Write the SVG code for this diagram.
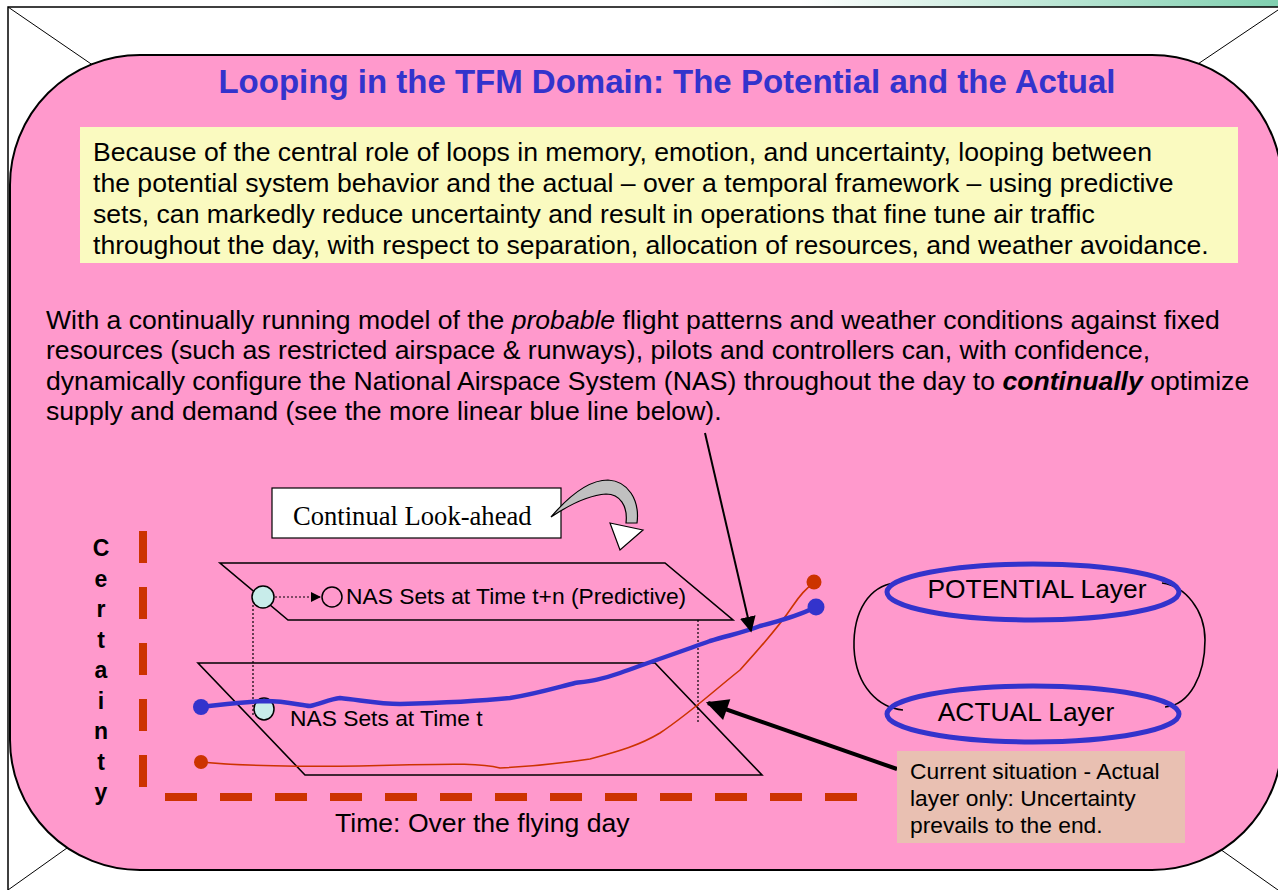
<svg xmlns="http://www.w3.org/2000/svg" width="1278" height="890" viewBox="0 0 1278 890">
<defs>
<linearGradient id="topg" x1="0" y1="0" x2="1" y2="0">
<stop offset="0" stop-color="#ffffff"/>
<stop offset="1" stop-color="#80d0b0"/>
</linearGradient>
<marker id="ah" markerWidth="10" markerHeight="10" refX="9" refY="5" orient="auto" markerUnits="userSpaceOnUse">
<path d="M0,0 L10,5 L0,10 Z" fill="#000"/>
</marker>
<marker id="ah2" viewBox="0 0 10 10" markerWidth="16" markerHeight="16" refX="9" refY="5" orient="auto" markerUnits="userSpaceOnUse">
<path d="M0,0 L10,5 L0,10 Z" fill="#000"/>
</marker>
<marker id="ah3" viewBox="0 0 10 10" markerWidth="24" markerHeight="22" refX="9" refY="5" orient="auto" markerUnits="userSpaceOnUse">
<path d="M0,0 L10,5 L0,10 Z" fill="#000"/>
</marker>
</defs>
<style>
.sans{font-family:"Liberation Sans",Arial,sans-serif;}
.body{font-family:"Liberation Sans",Arial,sans-serif;font-size:26.6px;fill:#000;}
.lbl{font-family:"Liberation Sans",Arial,sans-serif;font-size:22.8px;fill:#000;}
.axisv{stroke:#cc3300;stroke-width:8;stroke-dasharray:32 24;fill:none;}
.axish{stroke:#cc3300;stroke-width:8;stroke-dasharray:32 23;fill:none;}
.plane{fill:none;stroke:#000;stroke-width:1.6;}
.dot{stroke:#000;stroke-width:1.2;stroke-dasharray:2 2;fill:none;}
.layer{fill:none;stroke:#3333cc;stroke-width:5;}
</style>
<rect x="0" y="0" width="1278" height="890" fill="#ffffff"/>
<rect x="800" y="0" width="478" height="7" fill="url(#topg)"/>
<g id="frame">
<path d="M8,890 L8,7 L1278,7" fill="none" stroke="#000" stroke-width="1.5"/>
<line x1="8" y1="7" x2="640" y2="440" stroke="#000" stroke-width="1"/>
<line x1="1278" y1="10" x2="640" y2="440" stroke="#000" stroke-width="1"/>
<line x1="8" y1="890" x2="640" y2="440" stroke="#000" stroke-width="1"/>
<line x1="1278" y1="890" x2="640" y2="440" stroke="#000" stroke-width="1"/>
</g>
<g id="panel">
<rect x="10" y="55" width="1272" height="815" rx="130" ry="130" fill="#ff99cc" stroke="#000" stroke-width="2"/>
</g>
<g id="title">
<text x="667" y="93" text-anchor="middle" class="sans" font-size="33" font-weight="bold" fill="#3333cc">Looping in the TFM Domain: The Potential and the Actual</text>
</g>
<g id="summary">
<rect x="80" y="127" width="1158" height="136" fill="#fafac0"/>
<text class="body" x="93" y="161">Because of the central role of loops in memory, emotion, and uncertainty, looping between</text>
<text class="body" x="93" y="192">the potential system behavior and the actual – over a temporal framework – using predictive</text>
<text class="body" x="93" y="223">sets, can markedly reduce uncertainty and result in operations that fine tune air traffic</text>
<text class="body" x="93" y="254">throughout the day, with respect to separation, allocation of resources, and weather avoidance.</text>
</g>
<g id="paragraph">
<text class="body" x="46" y="329">With a continually running model of the <tspan font-style="italic">probable</tspan> flight patterns and weather conditions against fixed</text>
<text class="body" x="46" y="359">resources (such as restricted airspace &amp; runways), pilots and controllers can, with confidence,</text>
<text class="body" x="46" y="390">dynamically configure the National Airspace System (NAS) throughout the day to <tspan font-weight="bold" font-style="italic">continually</tspan> optimize</text>
<text class="body" x="46" y="420">supply and demand (see the more linear blue line below).</text>
</g>
<g id="axes">
<line class="axisv" x1="143" y1="531" x2="143" y2="787"/>
<line class="axish" x1="165" y1="797" x2="857" y2="797"/>
<text class="sans" font-size="23" font-weight="bold" text-anchor="middle">
<tspan x="101" y="556">C</tspan><tspan x="101" y="586.5">e</tspan><tspan x="101" y="617">r</tspan><tspan x="101" y="647.5">t</tspan><tspan x="101" y="678">a</tspan><tspan x="101" y="708.5">i</tspan><tspan x="101" y="739">n</tspan><tspan x="101" y="769.5">t</tspan><tspan x="101" y="800">y</tspan>
</text>
<text class="body" x="335" y="832">Time: Over the flying day</text>
</g>
<g id="lookahead">
<rect x="272" y="488" width="289" height="50" fill="#ffffff" stroke="#000" stroke-width="1.2"/>
<text x="293" y="525" font-family="'Liberation Serif','Times New Roman',serif" font-size="26.6" fill="#000">Continual Look-ahead</text>
<path d="M551,517 C568,497 588,480 608,480 C628,481 640,500 637,523 L626,523 C628,506 620,494 606,494 C590,495 572,503 551,517 Z" fill="#c0c0c0" stroke="#000" stroke-width="1.2"/>
<path d="M610,523 L643,530 L620,550 Z" fill="#ffffff" stroke="#000" stroke-width="1.2"/>
</g>
<g id="plane-predictive">
<path class="plane" d="M220,563 L665,563 L733,620 L288,620 Z"/>
<line class="dot" x1="253" y1="605" x2="253" y2="717"/>
<line class="dot" x1="698" y1="620" x2="698" y2="722"/>
<circle cx="263" cy="597" r="11" fill="#c8ecea" stroke="#000" stroke-width="1.5"/>
<line x1="275" y1="597" x2="320" y2="597" stroke="#000" stroke-width="1.2" stroke-dasharray="2 2" marker-end="url(#ah)"/>
<circle cx="332" cy="597" r="10" fill="none" stroke="#000" stroke-width="1.5"/>
<text class="lbl" x="346" y="604">NAS Sets at Time t+n (Predictive)</text>
</g>
<g id="plane-actual">
<path class="plane" d="M198,663 L655,663 L762,775 L305,775 Z"/>
<ellipse cx="264" cy="709" rx="10" ry="11" fill="#c8ecea" stroke="#000" stroke-width="1.5"/>
<text class="lbl" x="290" y="726">NAS Sets at Time t</text>
</g>
<g id="curves">
<path d="M201,762 C230,765 300,768 400,765 C450,764 480,763 500,768 C520,767 550,765 590,759 C620,751 640,745 660,733 C690,713 710,694 740,670 C760,648 778,628 792,607 C800,595 806,588 814,583" fill="none" stroke="#cc3300" stroke-width="1.6"/>
<circle cx="201" cy="762" r="7" fill="#cc3300"/>
<circle cx="814" cy="582" r="7.5" fill="#cc3300"/>
<path d="M201,707 C220,705 240,702 265,701 C285,701 300,705 310,706 C320,704 330,699 340,698 C360,700 380,704 400,704 C440,703 480,701 510,698 C535,694 555,688 575,683 C590,681 600,680 620,673 C650,662 680,652 710,641 C730,635 745,632 760,626 C780,621 800,615 816,607" fill="none" stroke="#3333cc" stroke-width="4.5"/>
<circle cx="201" cy="707" r="8" fill="#3333cc"/>
<circle cx="816" cy="607" r="8.5" fill="#3333cc"/>
</g>
<g id="connectors">
<line x1="705" y1="433" x2="751" y2="631" stroke="#000" stroke-width="2" marker-end="url(#ah2)"/>
<line x1="897" y1="769" x2="708" y2="703" stroke="#000" stroke-width="4" marker-end="url(#ah3)"/>
</g>
<g id="layers">
<path d="M895,583 C870,586 853,610 854,648 C856,688 880,708 903,710" fill="none" stroke="#000" stroke-width="1.6"/>
<path d="M1162,583 C1185,586 1205,610 1205,640 C1205,675 1190,705 1165,707" fill="none" stroke="#000" stroke-width="1.6"/>
<ellipse class="layer" cx="1033" cy="592" rx="146" ry="28"/>
<ellipse class="layer" cx="1033" cy="714" rx="146" ry="28"/>
<text class="sans" x="1037" y="598" font-size="26.4" text-anchor="middle">POTENTIAL Layer</text>
<text class="sans" x="1026" y="721" font-size="26.4" text-anchor="middle">ACTUAL Layer</text>
</g>
<g id="callout">
<rect x="897" y="751" width="288" height="92" fill="#e9c0b2"/>
<text class="lbl" x="910" y="779">Current situation - Actual</text>
<text class="lbl" x="910" y="806">layer only: Uncertainty</text>
<text class="lbl" x="910" y="833">prevails to the end.</text>
</g>
</svg>
